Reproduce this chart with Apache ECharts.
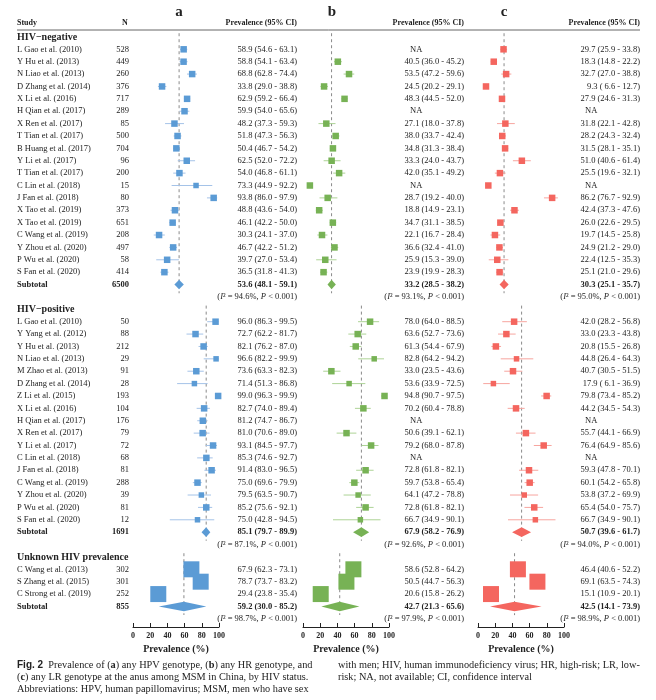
<!DOCTYPE html>
<html>
<head>
<meta charset="utf-8">
<script src="https://cdn.jsdelivr.net/npm/echarts@6/dist/echarts.min.js"></script>
<style>
html, body { margin: 0; background: #fff; }
#main { width: 656px; height: 700px; }
</style>
</head>
<body>
<div id="main"></div>
<script>
// ---- data: HIV-negative ----
var negStudies = ['L Gao et al. (2010)', 'Y Hu et al. (2013)', 'N Liao et al. (2013)', 'D Zhang et al. (2014)',
    'X Li et al. (2016)', 'H Qian et al. (2017)', 'X Ren et al. (2017)', 'T Tian et al. (2017)',
    'B Huang et al. (2017)', 'Y Li et al. (2017)', 'T Tian et al. (2017)', 'C Lin et al. (2018)',
    'J Fan et al. (2018)', 'X Tao et al. (2019)', 'X Tao et al. (2019)', 'C Wang et al. (2019)',
    'Y Zhou et al. (2020)', 'P Wu et al. (2020)', 'S Fan et al. (2020)'];
var negN = [528, 449, 260, 376, 717, 289, 85, 500, 704, 96, 200, 15, 80, 373, 651, 208, 497, 58, 414];
var negA = [[58.9, 54.6, 63.1], [58.8, 54.1, 63.4], [68.8, 62.8, 74.4], [33.8, 29.0, 38.8], [62.9, 59.2, 66.4],
    [59.9, 54.0, 65.6], [48.2, 37.3, 59.3], [51.8, 47.3, 56.3], [50.4, 46.7, 54.2], [62.5, 52.0, 72.2],
    [54.0, 46.8, 61.1], [73.3, 44.9, 92.2], [93.8, 86.0, 97.9], [48.8, 43.6, 54.0], [46.1, 42.2, 50.0],
    [30.3, 24.1, 37.0], [46.7, 42.2, 51.2], [39.7, 27.0, 53.4], [36.5, 31.8, 41.3]];
var negB = [null, [40.5, 36.0, 45.2], [53.5, 47.2, 59.6], [24.5, 20.2, 29.1], [48.3, 44.5, 52.0],
    null, [27.1, 18.0, 37.8], [38.0, 33.7, 42.4], [34.8, 31.3, 38.4], [33.3, 24.0, 43.7],
    [42.0, 35.1, 49.2], null, [28.7, 19.2, 40.0], [18.8, 14.9, 23.1], [34.7, 31.1, 38.5],
    [22.1, 16.7, 28.4], [36.6, 32.4, 41.0], [25.9, 15.3, 39.0], [23.9, 19.9, 28.3]];
var negC = [[29.7, 25.9, 33.8], [18.3, 14.8, 22.2], [32.7, 27.0, 38.8], [9.3, 6.6, 12.7], [27.9, 24.6, 31.3],
    null, [31.8, 22.1, 42.8], [28.2, 24.3, 32.4], [31.5, 28.1, 35.1], [51.0, 40.6, 61.4],
    [25.5, 19.6, 32.1], null, [86.2, 76.7, 92.9], [42.4, 37.3, 47.6], [26.0, 22.6, 29.5],
    [19.7, 14.5, 25.8], [24.9, 21.2, 29.0], [22.4, 12.5, 35.3], [25.1, 21.0, 29.6]];
var negSubN = 6500;
var negSub = [[53.6, 48.1, 59.1], [33.2, 28.5, 38.2], [30.3, 25.1, 35.7]];
var negI2 = [94.6, 93.1, 95.0];
// C Lin (2018) reads NA in b and c, but the figure still draws a square there
var negStrayRow = 11;
var negStray = [null, 8.0, 12.0];

// ---- data: HIV-positive ----
var posStudies = ['L Gao et al. (2010)', 'Y Yang et al. (2012)', 'Y Hu et al. (2013)', 'N Liao et al. (2013)',
    'M Zhao et al. (2013)', 'D Zhang et al. (2014)', 'Z Li et al. (2015)', 'X Li et al. (2016)',
    'H Qian et al. (2017)', 'X Ren et al. (2017)', 'Y Li et al. (2017)', 'C Lin et al. (2018)',
    'J Fan et al. (2018)', 'C Wang et al. (2019)', 'Y Zhou et al. (2020)', 'P Wu et al. (2020)',
    'S Fan et al. (2020)'];
var posN = [50, 88, 212, 29, 91, 28, 193, 104, 176, 79, 72, 68, 81, 288, 39, 81, 12];
var posA = [[96.0, 86.3, 99.5], [72.7, 62.2, 81.7], [82.1, 76.2, 87.0], [96.6, 82.2, 99.9], [73.6, 63.3, 82.3],
    [71.4, 51.3, 86.8], [99.0, 96.3, 99.9], [82.7, 74.0, 89.4], [81.2, 74.7, 86.7], [81.0, 70.6, 89.0],
    [93.1, 84.5, 97.7], [85.3, 74.6, 92.7], [91.4, 83.0, 96.5], [75.0, 69.6, 79.9], [79.5, 63.5, 90.7],
    [85.2, 75.6, 92.1], [75.0, 42.8, 94.5]];
var posB = [[78.0, 64.0, 88.5], [63.6, 52.7, 73.6], [61.3, 54.4, 67.9], [82.8, 64.2, 94.2], [33.0, 23.5, 43.6],
    [53.6, 33.9, 72.5], [94.8, 90.7, 97.5], [70.2, 60.4, 78.8], null, [50.6, 39.1, 62.1],
    [79.2, 68.0, 87.8], null, [72.8, 61.8, 82.1], [59.7, 53.8, 65.4], [64.1, 47.2, 78.8],
    [72.8, 61.8, 82.1], [66.7, 34.9, 90.1]];
var posC = [[42.0, 28.2, 56.8], [33.0, 23.3, 43.8], [20.8, 15.5, 26.8], [44.8, 26.4, 64.3], [40.7, 30.5, 51.5],
    [17.9, 6.1, 36.9], [79.8, 73.4, 85.2], [44.2, 34.5, 54.3], null, [55.7, 44.1, 66.9],
    [76.4, 64.9, 85.6], null, [59.3, 47.8, 70.1], [60.1, 54.2, 65.8], [53.8, 37.2, 69.9],
    [65.4, 54.0, 75.7], [66.7, 34.9, 90.1]];
var posSubN = 1691;
var posSub = [[85.1, 79.7, 89.9], [67.9, 58.2, 76.9], [50.7, 39.6, 61.7]];
var posI2 = [87.1, 92.6, 94.0];

// ---- data: unknown HIV prevalence ----
var unkStudies = ['C Wang et al. (2013)', 'S Zhang et al. (2015)', 'C Strong et al. (2019)'];
var unkN = [302, 301, 252];
var unkA = [[67.9, 62.3, 73.1], [78.7, 73.7, 83.2], [29.4, 23.8, 35.4]];
var unkB = [[58.6, 52.8, 64.2], [50.5, 44.7, 56.3], [20.6, 15.8, 26.2]];
var unkC = [[46.4, 40.6, 52.2], [69.1, 63.5, 74.3], [15.1, 10.9, 20.1]];
var unkSubN = 855;
var unkSub = [[59.2, 30.0, 85.2], [42.7, 21.3, 65.6], [42.5, 14.1, 73.9]];
var unkI2 = [98.7, 97.9, 98.9];

var panelNames = ['a', 'b', 'c'];
var xTicks = [0, 20, 40, 60, 80, 100];

// ---- layout ----
var groups = [
    { title: 'HIV\u2212negative', studies: negStudies, n: negN, est: [negA, negB, negC], subN: negSubN, sub: negSub, i2: negI2, start: 0, big: false },
    { title: 'HIV\u2212positive', studies: posStudies, n: posN, est: [posA, posB, posC], subN: posSubN, sub: posSub, i2: posI2, start: 22, big: false },
    { title: 'Unknown HIV prevalence', studies: unkStudies, n: unkN, est: [unkA, unkB, unkC], subN: unkSubN, sub: unkSub, i2: unkI2, start: 42, big: true }
];
var gridLeft = [133, 303, 478];
var textRight = [297, 464, 640];
var naLeft = [0, 410, 585];
var colors = ['#5b9bd5', '#77b255', '#f4665f'];
var light = ['#a5c3e8', '#add396', '#f7a59f'];
var serif = '"Liberation Serif", "DejaVu Serif", serif';
var ink = '#222';

function fmt(v) {
    return v[0].toFixed(1) + ' (' + (v[1] < 10 ? ' ' : '') + v[1].toFixed(1) + ' - ' + v[2].toFixed(1) + ')';
}

function textSeries(grid, items) {
    return {
        type: 'custom', xAxisIndex: grid, yAxisIndex: grid, silent: true, clip: false,
        encode: { x: 0, y: 1 },
        data: items.map(function(it) { return [0, it.k]; }),
        renderItem: function(params, api) {
            var it = items[params.dataIndex];
            var y = api.coord([0, it.k])[1];
            var st = {
                text: it.text, align: it.align || 'left', verticalAlign: 'middle', fill: ink,
                fontFamily: serif, fontSize: it.size || 8.5, fontWeight: it.bold ? 'bold' : 'normal'
            };
            if (it.rich) st.rich = it.rich;
            return { type: 'text', x: it.x, y: y, style: st };
        }
    };
}

var grids = [], xAxes = [], yAxes = [], series = [];
var labelItems = [];

groups.forEach(function(g) {
    labelItems.push({ k: g.start - 1, x: 17, text: g.title, bold: true, size: 10 });
    g.studies.forEach(function(s, i) {
        labelItems.push({ k: g.start + i, x: 17, text: s });
        labelItems.push({ k: g.start + i, x: 129, text: String(g.n[i]), align: 'right' });
    });
    labelItems.push({ k: g.start + g.studies.length, x: 17, text: 'Subtotal', bold: true });
    labelItems.push({ k: g.start + g.studies.length, x: 129, text: String(g.subN), align: 'right', bold: true });
});

panelNames.forEach(function(name, p) {
    grids.push({ left: gridLeft[p], width: 86, top: 30, bottom: 73 });
    xAxes.push({
        type: 'value', gridIndex: p, position: 'bottom', min: 0, max: 100, interval: 20,
        axisLine: { onZero: false, lineStyle: { color: '#222', width: 1 } },
        axisTick: { inside: true, length: 4, lineStyle: { color: '#222' } },
        axisLabel: { fontFamily: serif, fontWeight: 'bold', fontSize: 8, color: ink, margin: 5 },
        splitLine: { show: false },
        name: 'Prevalence (%)', nameLocation: 'middle', nameGap: 17,
        nameTextStyle: { fontFamily: serif, fontWeight: 'bold', fontSize: 10, color: ink }
    });
    yAxes.push({ type: 'value', gridIndex: p, min: -1.56, max: 46.66, inverse: true, show: false });

    var dashes = [], studies = [], diamonds = [], texts = [];
    groups.forEach(function(g) {
        var m = g.studies.length;
        dashes.push([g.start - 1.3, g.start + m + 0.7, g.sub[p][0]]);
        g.est[p].forEach(function(v, i) {
            var k = g.start + i;
            if (v) {
                var size = g.big ? 16 : (g.n[i] < 40 ? 5.5 : 6.5);
                studies.push([k, v[0], v[1], v[2], size]);
                texts.push({ k: k, x: textRight[p], align: 'right', text: fmt(v) });
            } else {
                texts.push({ k: k, x: naLeft[p], text: 'NA' });
            }
        });
        diamonds.push([g.start + m, g.sub[p][0], g.sub[p][1], g.sub[p][2]]);
        texts.push({ k: g.start + m, x: textRight[p], align: 'right', text: fmt(g.sub[p]), bold: true });
        texts.push({
            k: g.start + m + 1, x: textRight[p], align: 'right',
            text: '{n|(}{i|I}{n|\u00b2 = ' + g.i2[p].toFixed(1) + '%, }{i|P}{n| < 0.001)}',
            rich: {
                n: { fontFamily: serif, fontSize: 8.5, fill: ink },
                i: { fontFamily: serif, fontSize: 8.5, fontStyle: 'italic', fill: ink }
            }
        });
    });
    if (negStray[p] != null) {
        studies.push([groups[0].start + negStrayRow, negStray[p], negStray[p], negStray[p], 6.5]);
    }

    series.push({
        type: 'custom', xAxisIndex: p, yAxisIndex: p, silent: true, clip: false,
        encode: { x: 2, y: [0, 1] }, data: dashes,
        renderItem: function(params, api) {
            var a = api.coord([api.value(2), api.value(0)]);
            var b = api.coord([api.value(2), api.value(1)]);
            return { type: 'line', shape: { x1: a[0], y1: a[1], x2: b[0], y2: b[1] },
                style: { stroke: '#8a8a8a', lineWidth: 1, lineDash: [3, 3] } };
        }
    });
    series.push({
        type: 'custom', xAxisIndex: p, yAxisIndex: p, silent: true, clip: false,
        encode: { x: [1, 2, 3], y: 0 }, data: studies,
        renderItem: function(params, api) {
            var k = api.value(0), s = api.value(4);
            var c = api.coord([api.value(1), k]);
            var lo = api.coord([api.value(2), k]);
            var hi = api.coord([api.value(3), k]);
            return { type: 'group', children: [
                { type: 'line', shape: { x1: lo[0], y1: c[1], x2: hi[0], y2: c[1] }, style: { stroke: light[p], lineWidth: 1 } },
                { type: 'rect', shape: { x: c[0] - s / 2, y: c[1] - s / 2, width: s, height: s }, style: { fill: colors[p] } }
            ] };
        }
    });
    series.push({
        type: 'custom', xAxisIndex: p, yAxisIndex: p, silent: true, clip: false,
        encode: { x: [1, 2, 3], y: 0 }, data: diamonds,
        renderItem: function(params, api) {
            var k = api.value(0), h = 4.8;
            var c = api.coord([api.value(1), k]);
            var lo = api.coord([api.value(2), k]);
            var hi = api.coord([api.value(3), k]);
            return { type: 'polygon',
                shape: { points: [[lo[0], c[1]], [c[0], c[1] - h], [hi[0], c[1]], [c[0], c[1] + h]] },
                style: { fill: colors[p] } };
        }
    });
    series.push(textSeries(p, texts));
});
series.push(textSeries(0, labelItems));

function headText(x, y, t, align, size) {
    return { type: 'text', x: x, y: y, silent: true,
        style: { text: t, align: align, verticalAlign: 'middle', fill: ink, fontFamily: serif, fontWeight: 'bold', fontSize: size } };
}

var graphics = [
    headText(179, 12, 'a', 'center', 15),
    headText(332, 12, 'b', 'center', 15),
    headText(504, 12, 'c', 'center', 15),
    headText(17, 23, 'Study', 'left', 8),
    headText(125, 23, 'N', 'center', 8),
    headText(textRight[0], 23, 'Prevalence (95% CI)', 'right', 8),
    headText(textRight[1], 23, 'Prevalence (95% CI)', 'right', 8),
    headText(textRight[2], 23, 'Prevalence (95% CI)', 'right', 8),
    { type: 'line', silent: true, shape: { x1: 17, y1: 30, x2: 640, y2: 30 }, style: { stroke: '#666', lineWidth: 1 } }
];

var capRich = {
    f: { fontFamily: '"Liberation Sans", sans-serif', fontWeight: 'bold', fontSize: 10, fill: ink },
    b: { fontFamily: serif, fontWeight: 'bold', fontSize: 10.3, fill: ink }
};
var capLeft = [
    '{f|Fig. 2}  Prevalence of ({b|a}) any HPV genotype, ({b|b}) any HR genotype, and',
    '({b|c}) any LR genotype at the anus among MSM in China, by HIV status.',
    'Abbreviations: HPV, human papillomavirus; MSM, men who have sex'
];
var capRight = [
    'with men; HIV, human immunodeficiency virus; HR, high-risk; LR, low-',
    'risk; NA, not available; CI, confidence interval'
];
capLeft.forEach(function(t, i) {
    graphics.push({ type: 'text', x: 17, y: 665 + i * 12, silent: true,
        style: { text: t, rich: capRich, verticalAlign: 'middle', fill: ink, fontFamily: serif, fontSize: 10.3 } });
});
capRight.forEach(function(t, i) {
    graphics.push({ type: 'text', x: 338, y: 665 + i * 12, silent: true,
        style: { text: t, verticalAlign: 'middle', fill: ink, fontFamily: serif, fontSize: 10.3 } });
});

var myChart = echarts.init(document.getElementById('main'), null, { renderer: 'canvas' });
myChart.setOption({
    animation: false,
    backgroundColor: '#fff',
    grid: grids,
    xAxis: xAxes,
    yAxis: yAxes,
    series: series,
    graphic: graphics
});
</script>
</body>
</html>
